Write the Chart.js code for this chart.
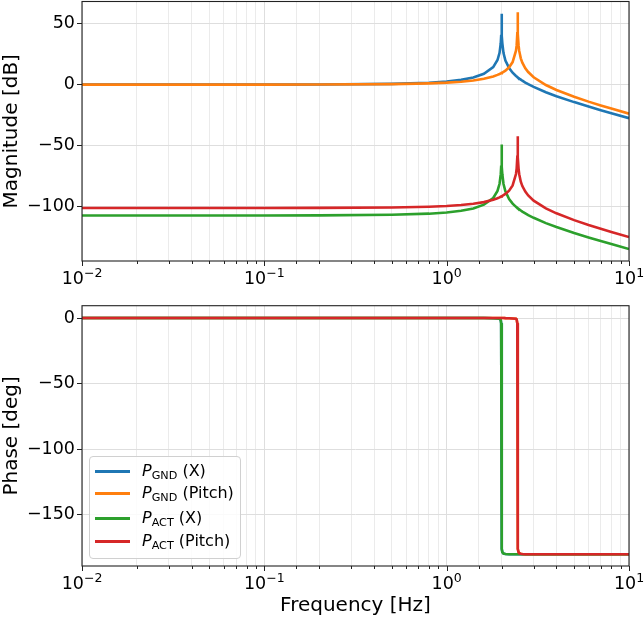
<!DOCTYPE html>
<html>
<head>
<meta charset="utf-8">
<script src="https://cdn.jsdelivr.net/npm/chart.js@4.4.1/dist/chart.umd.min.js"></script>
<style>
	body { margin: 0; background: #fff; font-family: 'DejaVu Sans', sans-serif; overflow: hidden; }
	#wrap { position: relative; width: 644px; height: 618px; overflow: hidden; }
	#wrap canvas { position: absolute; left: 0; }
	#legend {
		position: absolute; left: 89px; top: 456px; width: 150px; height: 101px;
		border: 1px solid #d0d0d0; border-radius: 4px; background: rgba(255,255,255,0.85);
	}
	#legend .row { position: absolute; left: 0; height: 24px; width: 150px; }
	#legend .swatch { position: absolute; left: 5px; top: 11px; width: 35px; height: 3px; }
	#legend .label { position: absolute; left: 52px; top: 0; font-size: 16px; line-height: 24px; color: #000; white-space: nowrap; }
	#legend sub { font-size: 70%; vertical-align: -0.3em; line-height: 0; }
	#legend i { font-style: italic; }
</style>
</head>
<body>
<div id="wrap">
	<canvas id="mag-canvas" width="644" height="301" style="top:-11px"></canvas>
	<canvas id="phase-canvas" width="644" height="328" style="top:290px"></canvas>
	<div id="legend"></div>
</div>
<script>
// frequency samples [Hz]
const freq = [0.01, 0.02, 0.05, 0.1, 0.2, 0.5, 0.8, 1.0, 1.2, 1.4, 1.6, 1.8, 1.9, 1.95, 1.98, 1.99, 2.0, 2.01, 2.02, 2.05, 2.1, 2.2, 2.3, 2.4, 2.42, 2.44, 2.45, 2.46, 2.48, 2.5, 2.55, 2.6, 2.7, 2.8, 3.0, 3.5, 4, 5, 6, 7, 8, 10];

// magnitude [dB]
const magGndX = [0.0, 0.0, 0.0, 0.0, 0.1, 0.6, 1.5, 2.5, 3.9, 5.8, 8.9, 14.4, 20.2, 26.1, 34.0, 40.0, 58.2, 40.0, 33.9, 25.9, 19.8, 13.6, 9.8, 7.1, 6.7, 6.2, 6.0, 5.8, 5.4, 5.0, 4.1, 3.2, 1.7, 0.35, -1.9, -6.3, -9.5, -14.4, -18.1, -21.0, -23.5, -27.6];
const magGndPitch = [0.0, 0.0, 0.0, 0.0, 0.1, 0.4, 1.0, 1.6, 2.4, 3.4, 4.8, 6.7, 8.0, 8.7, 9.2, 9.4, 9.5, 9.7, 9.9, 10.5, 11.5, 14.2, 18.5, 27.9, 32.2, 41.8, 59.5, 41.7, 32.2, 27.7, 21.6, 18.0, 13.4, 10.3, 6.0, -0.35, -4.4, -10.0, -14.0, -17.1, -19.7, -23.9];
const magActX = [-107.6, -107.6, -107.6, -107.6, -107.5, -107.0, -106.1, -105.1, -103.7, -101.8, -98.7, -93.2, -87.4, -81.5, -73.6, -67.6, -49.2, -67.6, -73.7, -81.7, -87.8, -94.0, -97.8, -100.5, -100.9, -101.4, -101.6, -101.8, -102.2, -102.6, -103.5, -104.4, -105.9, -107.3, -109.5, -113.9, -117.1, -122.0, -125.7, -128.6, -131.1, -135.2];
const magActPitch = [-101.4, -101.4, -101.4, -101.4, -101.3, -101.0, -100.4, -99.8, -99.0, -98.0, -96.6, -94.7, -93.4, -92.7, -92.2, -92.0, -91.9, -91.7, -91.5, -90.9, -89.9, -87.2, -82.9, -73.5, -69.2, -59.6, -42.4, -59.7, -69.2, -73.7, -79.8, -83.4, -88.0, -91.1, -95.4, -101.8, -105.8, -111.4, -115.4, -118.5, -121.1, -125.3];

// phase [deg]
const phaseX = [0, 0, 0, 0, 0, 0, 0, 0, 0, 0, 0, -0.2, -0.3, -0.5, -1.5, -4, -90, -176, -178.5, -179.5, -179.8, -180, -180, -180, -180, -180, -180, -180, -180, -180, -180, -180, -180, -180, -180, -180, -180, -180, -180, -180, -180, -180];
const phasePitch = [0, 0, 0, 0, 0, 0, 0, 0, 0, 0, 0, 0, 0, 0, 0, 0, 0, 0, 0, 0, -0.1, -0.2, -0.3, -0.5, -1, -4, -90, -176, -178.5, -179.3, -179.6, -179.8, -180, -180, -180, -180, -180, -180, -180, -180, -180, -180];

// axes
const xMin = 0.01;
const xMax = 10;
const xDecades = [0.01, 0.1, 1, 10];
const xExponents = ['\u22122', '\u22121', '0', '1'];
const magRange = [-145, 68.3];
const phaseRange = [-189, 9.4];
const magTicks = [-100, -50, 0, 50];
const phaseTicks = [-150, -100, -50, 0];

const seriesNames = ['GND|(X)', 'GND|(Pitch)', 'ACT|(X)', 'ACT|(Pitch)'];
const seriesColors = ['#1f77b4', '#ff7f0e', '#2ca02c', '#d62728'];

const FONT = "'DejaVu Sans', sans-serif";

function isDecade (v) {
	const l = Math.log10(v);
	return Math.abs(l - Math.round(l)) < 1e-9;
}

// axes frame on all four sides
const framePlugin = {
	id: 'frame',
	afterDatasetsDraw (chart) {
		const a = chart.chartArea;
		const c = chart.ctx;
		c.save();
		c.strokeStyle = '#222';
		c.lineWidth = 1.1;
		c.strokeRect(a.left, a.top, a.right - a.left, a.bottom - a.top);
		c.restore();
	}
};

// x tick marks (major / minor) and 10^n labels with real superscripts
const decadePlugin = {
	id: 'decades',
	afterDraw (chart) {
		const sx = chart.scales.x;
		const a = chart.chartArea;
		const c = chart.ctx;
		c.save();
		c.strokeStyle = '#222';
		c.lineWidth = 1;
		sx.ticks.forEach(t => {
			const px = Math.round(sx.getPixelForValue(t.value)) + 0.5;
			const len = isDecade(t.value) ? 5 : 3;
			c.beginPath();
			c.moveTo(px, a.bottom);
			c.lineTo(px, a.bottom + len);
			c.stroke();
		});

		c.fillStyle = '#000';
		c.textBaseline = 'alphabetic';
		c.textAlign = 'left';
		const base = a.bottom + 23.3;
		xDecades.forEach((v, i) => {
			const px = sx.getPixelForValue(v);
			c.font = '17.5px ' + FONT;
			const w1 = c.measureText('10').width;
			c.font = '12.5px ' + FONT;
			const w2 = c.measureText(xExponents[i]).width;
			const x0 = px - (w1 + w2) / 2;
			c.font = '17.5px ' + FONT;
			c.fillText('10', x0, base);
			c.font = '12.5px ' + FONT;
			c.fillText(xExponents[i], x0 + w1, base - 7);
		});
		c.restore();
	}
};

function toPoints (ys) {
	return freq.map((f, i) => ({ x: f, y: ys[i] }));
}

function buildChart (id, series, range, yTicks, yTitle, xTitle, pad, xHeight) {
	const datasets = series.map((ys, i) => ({
		data: toPoints(ys),
		borderColor: seriesColors[i],
		borderWidth: 2.6,
		pointRadius: 0,
		tension: 0,
		fill: false,
		order: series.length - i
	}));

	return new Chart(document.getElementById(id), {
		type: 'line',
		data: { datasets },
		plugins: [framePlugin, decadePlugin],
		options: {
			responsive: false,
			animation: false,
			layout: { padding: { top: pad, right: 15, left: 0, bottom: 0 } },
			plugins: { legend: { display: false }, tooltip: { enabled: false } },
			scales: {
				x: {
					type: 'logarithmic',
					min: xMin,
					max: xMax,
					afterFit (scale) { scale.height = xHeight; },
					grid: {
						color: ctx => isDecade(ctx.tick.value) ? '#dedede' : '#ebebeb',
						drawTicks: false,
						lineWidth: 1
					},
					border: { display: false },
					ticks: {
						autoSkip: false,
						maxRotation: 0,
						font: { family: FONT, size: 17.5 },
						callback: () => ''
					},
					title: {
						display: !!xTitle,
						text: xTitle,
						color: '#000',
						padding: 0,
						font: { family: FONT, size: 20 }
					}
				},
				y: {
					min: range[0],
					max: range[1],
					afterFit (scale) { scale.width = 82; },
					afterBuildTicks (scale) { scale.ticks = yTicks.map(v => ({ value: v })); },
					grid: { color: '#dedede', tickColor: '#222', tickLength: 5 },
					border: { display: false },
					ticks: {
						padding: 2,
						color: '#000',
						font: { family: FONT, size: 17.5 },
						callback: v => String(v).replace('-', '\u2212')
					},
					title: {
						display: true,
						text: yTitle,
						color: '#000',
						padding: 0,
						font: { family: FONT, size: 20 }
					}
				}
			}
		}
	});
}

buildChart('mag-canvas', [magGndX, magGndPitch, magActX, magActPitch], magRange, magTicks, 'Magnitude [dB]', '', 0, 29);
buildChart('phase-canvas', [phaseX, phasePitch, phaseX, phasePitch], phaseRange, phaseTicks, 'Phase [deg]', 'Frequency [Hz]', 15.7, 52);

// legend with subscripts
(function () {
	const legend = document.getElementById('legend');
	const rowTops = [2, 24, 49, 72];

	seriesNames.forEach((name, i) => {
		const parts = name.split('|');
		const row = document.createElement('div');
		const swatch = document.createElement('div');
		const label = document.createElement('div');

		row.className = 'row';
		row.style.top = rowTops[i] + 'px';
		swatch.className = 'swatch';
		swatch.style.background = seriesColors[i];
		label.className = 'label';
		label.innerHTML = '<i>P</i><sub>' + parts[0] + '</sub> ' + parts[1];

		row.appendChild(swatch);
		row.appendChild(label);
		legend.appendChild(row);
	});
})();
</script>
</body>
</html>
